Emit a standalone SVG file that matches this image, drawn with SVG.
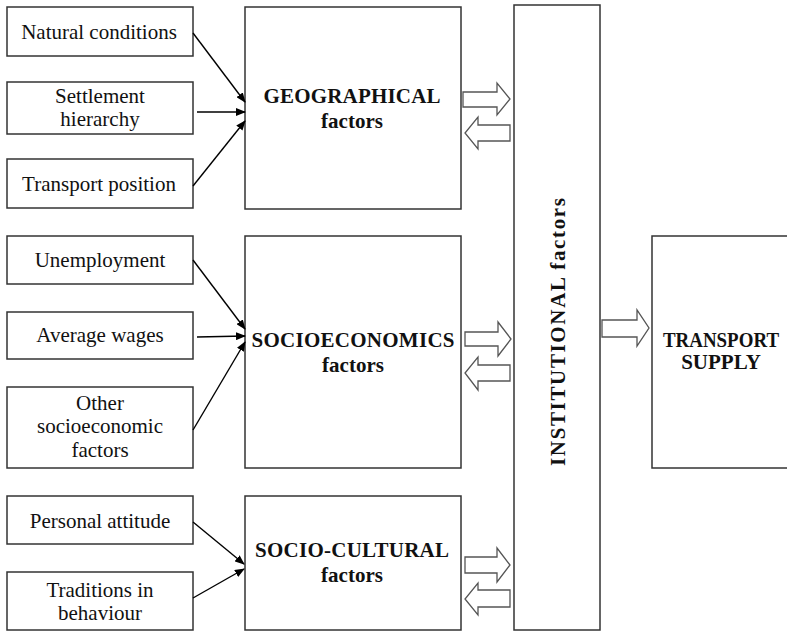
<svg xmlns="http://www.w3.org/2000/svg" width="787" height="633" viewBox="0 0 787 633">
<defs>
<marker id="ah" markerWidth="10" markerHeight="8" refX="9" refY="4" orient="auto" markerUnits="userSpaceOnUse">
<path d="M0,0 L10,4 L0,8 Z" fill="#000"/>
</marker>
<style>
.box{fill:#fff;stroke:#333;stroke-width:1.5}
.t{font-family:"Liberation Serif","Times New Roman",serif;font-size:21px;fill:#111;text-anchor:middle}
.b{font-family:"Liberation Serif","Times New Roman",serif;font-size:21px;font-weight:bold;fill:#111;text-anchor:middle}
.ln{stroke:#000;stroke-width:1.4;fill:none;marker-end:url(#ah)}
.blk{fill:#fff;stroke:#555;stroke-width:1.3}
</style>
</defs>
<rect width="787" height="633" fill="#fff"/>

<g id="natural"><rect class="box" x="7" y="7" width="186" height="49"/><text class="t" x="99" y="39">Natural conditions</text></g>
<g id="settlement"><rect class="box" x="7" y="82" width="186" height="52"/><text class="t" x="100" y="103">Settlement</text><text class="t" x="100" y="126">hierarchy</text></g>
<g id="transportpos"><rect class="box" x="7" y="159" width="186" height="49"/><text class="t" x="99" y="191">Transport position</text></g>

<g id="unemployment"><rect class="box" x="7" y="236" width="186" height="48"/><text class="t" x="100" y="267">Unemployment</text></g>
<g id="wages"><rect class="box" x="7" y="312" width="186" height="47"/><text class="t" x="100" y="342">Average wages</text></g>
<g id="other"><rect class="box" x="7" y="387" width="186" height="81"/><text class="t" x="100" y="410">Other</text><text class="t" x="100" y="433">socioeconomic</text><text class="t" x="100" y="457">factors</text></g>

<g id="personal"><rect class="box" x="7" y="496" width="186" height="48"/><text class="t" x="100" y="528">Personal attitude</text></g>
<g id="traditions"><rect class="box" x="7" y="572" width="186" height="58"/><text class="t" x="100" y="597">Traditions in</text><text class="t" x="100" y="620">behaviour</text></g>

<g id="geographical"><rect class="box" x="245" y="7" width="216" height="202"/><text class="b" x="352" y="103" textLength="177" lengthAdjust="spacing">GEOGRAPHICAL</text><text class="b" x="352" y="128">factors</text></g>
<g id="socioeconomics"><rect class="box" x="245" y="236" width="216" height="232"/><text class="b" x="353" y="347" textLength="203" lengthAdjust="spacing">SOCIOECONOMICS</text><text class="b" x="353" y="372">factors</text></g>
<g id="sociocultural"><rect class="box" x="245" y="496" width="216" height="134"/><text class="b" x="352" y="557" textLength="194" lengthAdjust="spacing">SOCIO-CULTURAL</text><text class="b" x="352" y="582">factors</text></g>

<g id="institutional"><rect class="box" x="514" y="5" width="86" height="625"/><text class="b" transform="translate(565,332) rotate(-90)" x="0" y="0" textLength="268" lengthAdjust="spacing">INSTITUTIONAL factors</text></g>
<g id="supply"><rect class="box" x="652" y="236" width="145" height="232"/><text class="b" x="721" y="347" textLength="116" lengthAdjust="spacingAndGlyphs">TRANSPORT</text><text class="b" x="721" y="369">SUPPLY</text></g>

<g id="connectors">
<line class="ln" x1="193" y1="33" x2="245" y2="102"/>
<line class="ln" x1="197" y1="112" x2="245" y2="112"/>
<line class="ln" x1="193" y1="186" x2="245" y2="121"/>
<line class="ln" x1="193" y1="260" x2="245" y2="329"/>
<line class="ln" x1="197" y1="337" x2="245" y2="336"/>
<line class="ln" x1="193" y1="430" x2="245" y2="342"/>
<line class="ln" x1="193" y1="522" x2="244" y2="564"/>
<line class="ln" x1="193" y1="598" x2="244" y2="569"/>
<polygon class="blk" points="463,92 497,92 497,83 510,99 497,115 497,107 463,107"/>
<polygon class="blk" points="510,125 478,125 478,117 465,133 478,149 478,141 510,141"/>
<polygon class="blk" points="465,332 498,332 498,322 511,339 498,356 498,346 465,346"/>
<polygon class="blk" points="510,365 478,365 478,357 465,373 478,390 478,381 510,381"/>
<polygon class="blk" points="465,557 497,557 497,548 510,565 497,582 497,573 465,573"/>
<polygon class="blk" points="510,590 478,590 478,583 465,599 478,615 478,607 510,607"/>
<polygon class="blk" points="602,320 637,320 637,310 649,328 637,346 637,337 602,337"/>
</g>
</svg>
